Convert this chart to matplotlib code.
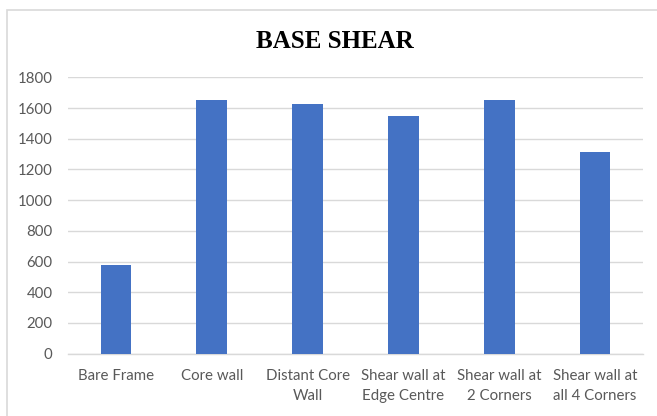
import matplotlib.pyplot as plt
from matplotlib.patches import Rectangle

# base shear for each structural configuration
categories = [
    "Bare Frame",
    "Core wall",
    "Distant Core\nWall",
    "Shear wall at\nEdge Centre",
    "Shear wall at\n2 Corners",
    "Shear wall at\nall 4 Corners",
]
base_shear = [580, 1655, 1627, 1547, 1655, 1313]
y_ticks = [0, 200, 400, 600, 800, 1000, 1200, 1400, 1600, 1800]

grid_color = "#D9D9D9"
text_color = "#595959"

fig = plt.figure(figsize=(6.57, 4.16), dpi=100)
fig.patch.set_facecolor("white")

# chart border (cropped at right and bottom)
fig.patches.append(Rectangle((7 / 657, -0.1), 1.2, 1 - 10 / 416 + 0.1,
                             transform=fig.transFigure, fill=False,
                             edgecolor=grid_color, linewidth=1.2))

ax = fig.add_axes([68 / 657, 1 - 353.7 / 416, 575 / 657, (353.7 - 77.3) / 416])
x = range(len(categories))
ax.bar(x, base_shear, width=0.32, color="#4472C4", zorder=3)

ax.set_ylim(0, 1800)
ax.set_xlim(-0.5, len(categories) - 0.5)
ax.set_yticks(y_ticks)
ax.set_xticks(list(x))
ax.set_xticklabels(categories, linespacing=1.55)

ax.yaxis.grid(True, color=grid_color, linewidth=1.0, zorder=0)
for side in ["top", "right", "left"]:
    ax.spines[side].set_visible(False)
ax.spines["bottom"].set_color(grid_color)
ax.spines["bottom"].set_linewidth(1.0)

ax.tick_params(axis="both", length=0, labelcolor=text_color, labelsize=10.8)
ax.tick_params(axis="y", pad=11)
ax.tick_params(axis="x", pad=11)
for lbl in ax.get_xticklabels() + ax.get_yticklabels():
    lbl.set_family("Lato")

fig.text(335 / 657, 1 - 41 / 416, "BASE SHEAR", ha="center", va="center",
         fontsize=18, fontweight="bold", family="Liberation Serif")

fig.savefig("out.png", dpi=100)
